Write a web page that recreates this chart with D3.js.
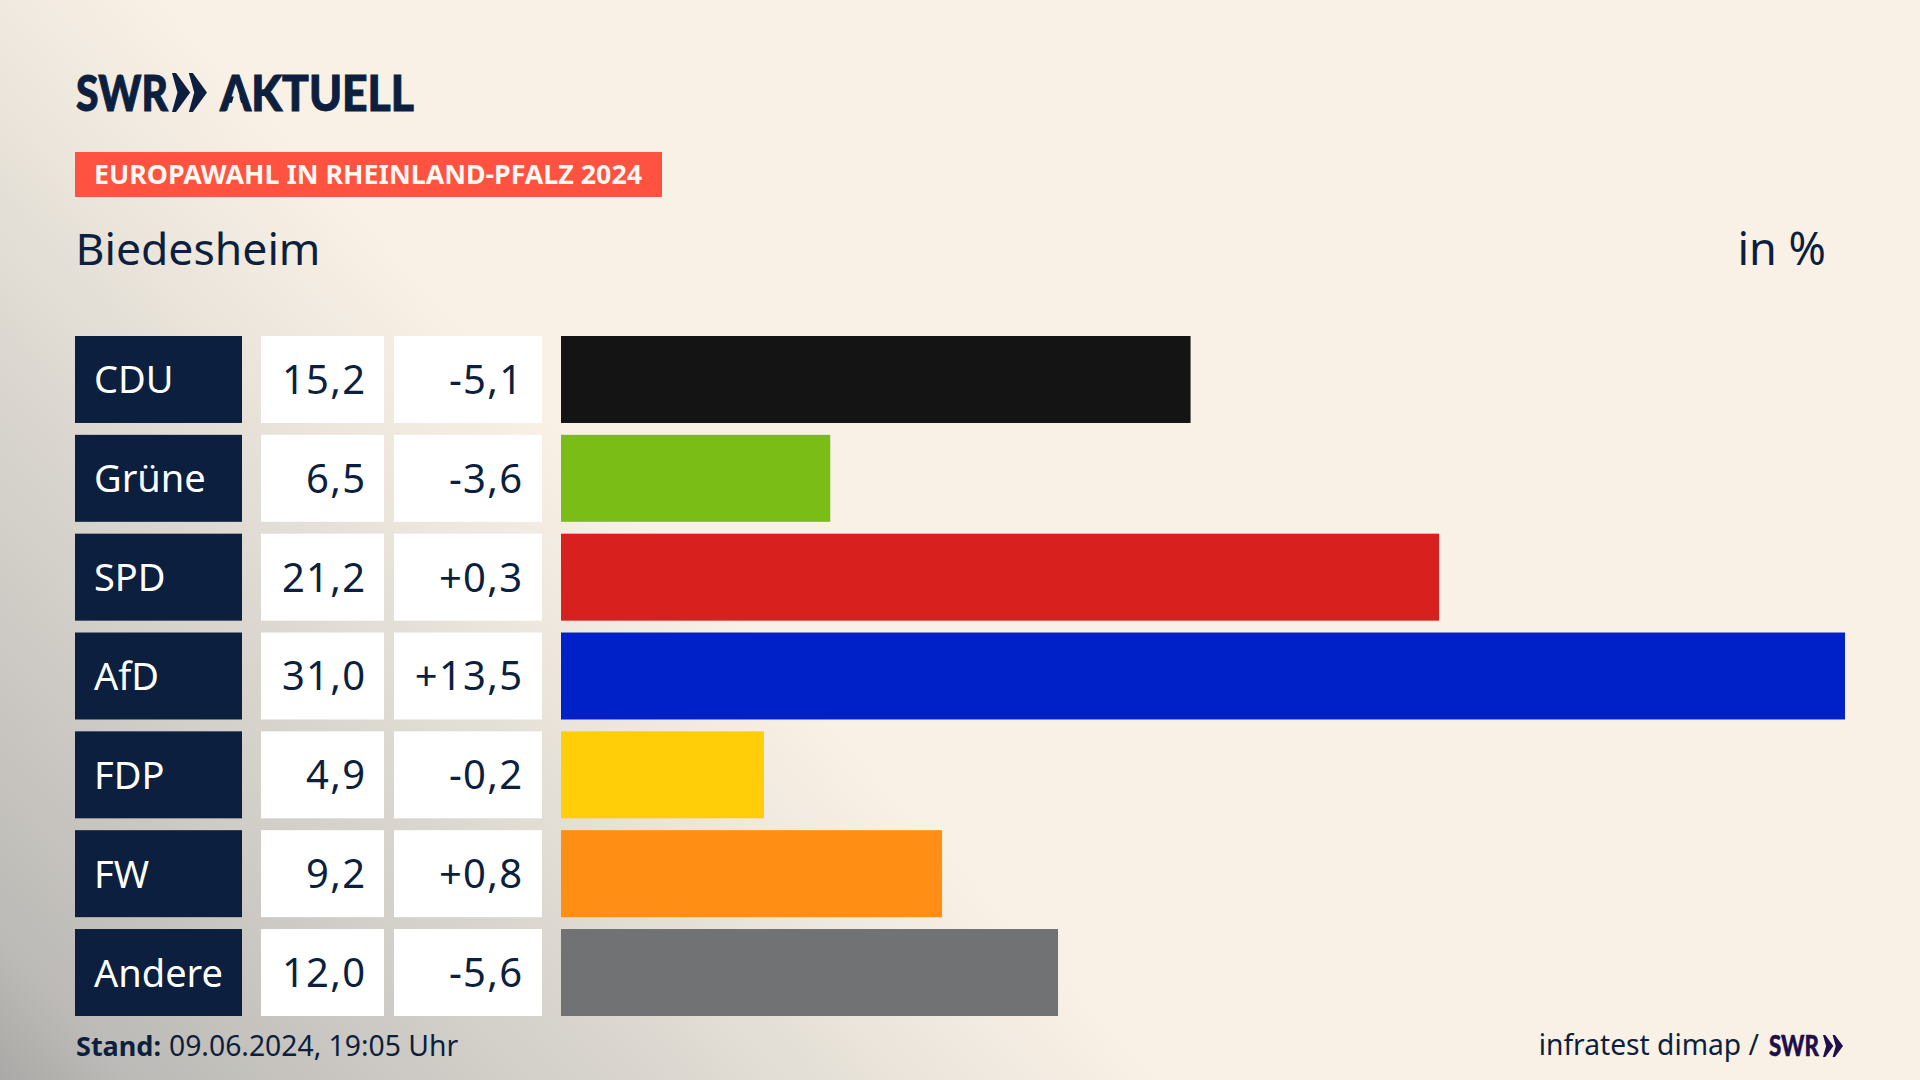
<!DOCTYPE html>
<html lang="de"><head><meta charset="utf-8">
<script src="https://cdn.jsdelivr.net/npm/d3@7/dist/d3.min.js"></script>
<style>html,body{margin:0;padding:0;background:#faf1e6;overflow:hidden}svg{display:block}text{font-family:"Noto Sans",Lato,sans-serif}</style>
</head><body><svg id="c" width="1920" height="1080"></svg>
<script>
const parties = ["CDU","Grüne","SPD","AfD","FDP","FW","Andere"];
const shares = [15.2,6.5,21.2,31.0,4.9,9.2,12.0];
const changes = [-5.1,-3.6,0.3,13.5,-0.2,0.8,-5.6];
const barColors = ["#141414","#7abd17","#d8201e","#0021c7","#ffce08","#ff8e15","#717274"];
const tag = "EUROPAWAHL IN RHEINLAND-PFALZ 2024";
const place = "Biedesheim";
const unit = "in %";
const standBold = "Stand:";
const standText = "09.06.2024, 19:05 Uhr";
const source = "infratest dimap /";

const NAVY="#0c1f3f", CREAM="#faf1e6";
const svg=d3.select("#c");
const defs=svg.append("defs");
const g1=defs.append("linearGradient").attr("id","bg").attr("gradientUnits","userSpaceOnUse")
  .attr("x1",0).attr("y1",1080).attr("x2",630).attr("y2",497);
[[0,"#aaa9a7"],[.11,"#bcbab6"],[.33,"#cbc8c3"],[.56,"#dad6cf"],[.8,"#ece6dc"],[1,CREAM]].forEach(([o,c])=>g1.append("stop").attr("offset",o).attr("stop-color",c));
svg.append("rect").attr("width",1920).attr("height",1080).attr("fill","url(#bg)");

const y=d3.scaleBand().domain(parties).range([336,1016]).paddingInner(0.12);
const x=d3.scaleLinear().domain([0,31]).range([561,1845]);
const fmt=v=>v.toFixed(1).replace(".",",");
const fmtC=v=>(v>0?"+":"")+fmt(v);
const rows=svg.selectAll("g.row").data(parties).join("g").attr("class","row")
  .attr("transform",d=>`translate(0,${y(d)})`);
const h=y.bandwidth(), base=h/2+14.5;
rows.append("rect").attr("x",75).attr("width",167).attr("height",h).attr("fill",NAVY);
rows.append("rect").attr("x",261).attr("width",123).attr("height",h).attr("fill","#fff");
rows.append("rect").attr("x",394).attr("width",148).attr("height",h).attr("fill","#fff");
rows.append("rect").attr("x",x(0)).attr("height",h).attr("width",(d,i)=>x(shares[i])-x(0)).attr("fill",(d,i)=>barColors[i]);
rows.append("text").attr("x",94).attr("y",base-.5).attr("font-size",38).attr("fill","#fff").text(d=>d);
rows.append("text").attr("x",366.5).attr("y",base).attr("text-anchor","end").attr("font-size",40).attr("letter-spacing",1.3).attr("fill",NAVY).text((d,i)=>fmt(shares[i]));
rows.append("text").attr("x",523.5).attr("y",base).attr("text-anchor","end").attr("font-size",40).attr("letter-spacing",1.3).attr("fill",NAVY).text((d,i)=>fmtC(changes[i]));

// header tag
svg.append("rect").attr("x",75).attr("y",152).attr("width",587).attr("height",45).attr("fill","#ff5240");
svg.append("text").attr("x",94).attr("y",184).attr("font-size",27).attr("font-weight",700).attr("fill","#fff8f0")
  .attr("textLength",548).attr("lengthAdjust","spacingAndGlyphs").text(tag);
svg.append("text").attr("x",75.5).attr("y",265).attr("font-size",44.5).attr("fill",NAVY).text(place);
svg.append("text").attr("x",1826).attr("y",265).attr("text-anchor","end").attr("font-size",45).attr("fill",NAVY).text(unit);

// logo
function chevrons(px,py,w,hh,fill){
  const cw=w*0.52, off=w-cw, t=cw*0.3, flat=cw*0.22;
  [0,off].forEach(o=>{
    const p=d3.path();
    p.moveTo(px+o,py);p.lineTo(px+o+flat,py);p.lineTo(px+o+cw,py+hh/2);p.lineTo(px+o+flat,py+hh);p.lineTo(px+o,py+hh);p.lineTo(px+o+t,py+hh/2);p.closePath();
    svg.append("path").attr("d",p.toString()).attr("fill",fill);
  });
}
svg.append("text").attr("x",76).attr("y",110.5).attr("font-size",50).attr("font-weight",900).attr("fill",NAVY).attr("stroke",NAVY).attr("stroke-width",1)
  .style("font-family","Lato").attr("textLength",92).attr("lengthAdjust","spacingAndGlyphs").text("SWR");
chevrons(172,73,35,39,NAVY);
svg.append("text").attr("x",220).attr("y",110.5).attr("font-size",50).attr("font-weight",900).attr("fill",NAVY).attr("stroke",NAVY).attr("stroke-width",1)
  .style("font-family","Lato").attr("textLength",194).attr("lengthAdjust","spacingAndGlyphs").text("AKTUELL");
// the logo's A has no crossbar
svg.append("path").attr("d","M236.5,86L229.5,112L243.5,112Z").attr("fill","#f7efe4");

// footer
const st=svg.append("text").attr("x",76).attr("y",1056).attr("fill",NAVY);
st.append("tspan").attr("font-weight",700).attr("font-size",27).text(standBold);
st.append("tspan").attr("dx",8).attr("font-size",28.3).text(standText);
svg.append("text").attr("x",1759).attr("y",1055).attr("text-anchor","end").attr("font-size",28.2).attr("fill",NAVY).text(source);
svg.append("text").attr("x",1769).attr("y",1056).attr("font-size",29).attr("font-weight",900).attr("fill","#1f0f4a").attr("stroke","#1f0f4a").attr("stroke-width",.5)
  .style("font-family","Lato").attr("textLength",50).attr("lengthAdjust","spacingAndGlyphs").text("SWR");
chevrons(1823,1035,20,22,"#1f0f4a");
</script></body></html>
